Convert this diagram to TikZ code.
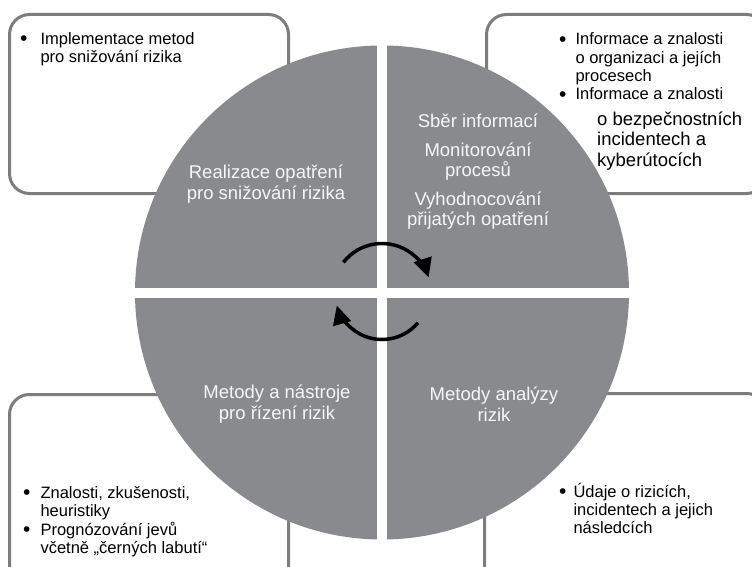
\documentclass[tikz,border=0pt]{standalone}
\usepackage{fontspec}
\setmainfont{Liberation Sans}
\usetikzlibrary{arrows.meta}
\definecolor{WheelGray}{RGB}{137, 138, 142}
\definecolor{FrameGray}{RGB}{125, 125, 125}
\definecolor{LabelWhite}{RGB}{246, 246, 246}

\newcommand{\notefont}{\fontsize{16.5}{18.3}\selectfont}
\newcommand{\wheelfont}{\fontsize{18.5}{20.5}\selectfont}
\newcommand{\dotmark}{\raisebox{-1.2pt}{\fontsize{21}{0}\selectfont\textbullet}}

\begin{document}
\begin{tikzpicture}[x=1pt, y=-1pt,
    panel/.style={draw=FrameGray, line width=3pt, fill=white, rounded corners=20pt, anchor=north west, inner sep=0pt},
    note/.style={anchor=base west, inner sep=0pt, font=\notefont},
    quarter/.style={align=center, text=LabelWhite, font=\wheelfont, inner sep=0pt},
    cycle/.style={line width=3.5pt, -{Triangle[length=19pt, width=18pt]}}]
    \useasboundingbox (0,0) rectangle (752,567);
    \clip (0,0) rectangle (752,567);

    % Panels behind the wheel
    \node[panel, minimum width=279pt, minimum height=179pt] (panelTL) at (8,13) {};
    \node[panel, minimum width=280pt, minimum height=179pt] (panelTR) at (485,13) {};
    \node[panel, minimum width=279pt, minimum height=200pt] (panelBL) at (8,393) {};
    \node[panel, minimum width=282pt, minimum height=200pt] (panelBR) at (483,392) {};

    % Wheel
    \coordinate (hub) at (382,292.5);
    \fill[WheelGray] (hub) circle[radius=247];
    \fill[white] (377,40) rectangle (387,545);
    \fill[white] (130,288) rectangle (634,298);

    % Quarter labels
    \node[quarter] (doTL) at (266,184) {Realizace opatření\\pro snižování rizika};
    \node[quarter] (doTR) at (478,172) {Sběr informací\\[8pt]Monitorování\\procesů\\[8pt]Vyhodnocování\\přijatých opatření};
    \node[quarter] (doBL) at (277,404) {Metody a nástroje\\pro řízení rizik};
    \node[quarter] (doBR) at (494,404) {Metody analýzy\\rizik};

    % Cycle arrows
    \draw[cycle] (hub) ++(-142:49) arc[start angle=-142, end angle=-18, radius=49];
    \draw[cycle] (hub) ++(40:47) arc[start angle=40, end angle=164, radius=47];

    % Panel notes
    \node[note] (noteTL) at (20,44.5) {\begin{tabular}[t]{@{}l@{\hspace{13pt}}l@{}}\dotmark & Implementace metod\\ & pro snižování rizika\end{tabular}};
    \node[note] (noteTR) at (559,45) {\begin{tabular}[t]{@{}l@{\hspace{9pt}}l@{}}\dotmark & Informace a znalosti\\ & o organizaci a jejích\\ & procesech\\\dotmark & Informace a znalosti\end{tabular}};
    \node[note, font=\wheelfont] (noteTRx) at (597,125) {\begin{tabular}[t]{@{}l@{}}o bezpečnostních\\incidentech a\\kyberútocích\end{tabular}};
    \node[note] (noteBL) at (23,498) {\begin{tabular}[t]{@{}l@{\hspace{10pt}}l@{}}\dotmark & Znalosti, zkušenosti,\\ & heuristiky\\\dotmark & Prognózování jevů\\ & včetně „černých labutí“\end{tabular}};
    \node[note] (noteBR) at (559,497) {\begin{tabular}[t]{@{}l@{\hspace{7pt}}l@{}}\dotmark & Údaje o rizicích,\\ & incidentech a jejich\\ & následcích\end{tabular}};
\end{tikzpicture}
\end{document}
